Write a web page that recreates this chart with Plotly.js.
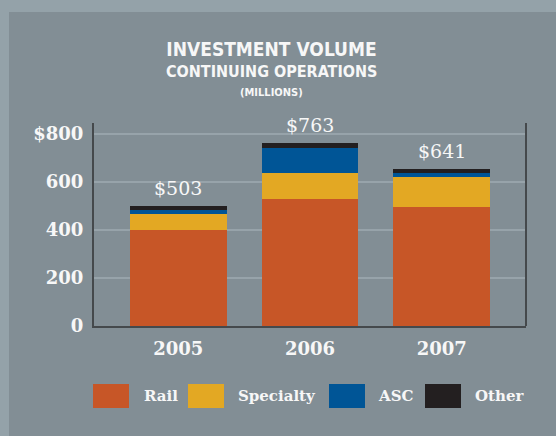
<!DOCTYPE html>
<html>
<head>
<meta charset="utf-8">
<script src="https://cdn.plot.ly/plotly-3.0.1.min.js"></script>
<style>
  html, body { margin: 0; padding: 0; background: #94a2a9; width: 556px; height: 436px; overflow: hidden; }
  #chart { position: absolute; left: 9px; top: 12px; width: 547px; height: 424px; }
</style>
</head>
<body>
<div id="chart"></div>
<script>
// ---- data ----
const years = ["2005", "2006", "2007"];
const rail = [401, 531, 497];
const specialty = [67, 108, 125];
const asc = [17, 104, 17];
const other = [16, 21, 16];
const totalLabels = ["$503", "$763", "$641"];
const seriesNames = ["Rail", "Specialty", "ASC", "Other"];
const seriesColors = ["#c75627", "#e3a823", "#005596", "#231f20"];
const yTickVals = [0, 200, 400, 600, 800];
const yTickText = ["0", "200", "400", "600", "$800"];

// ---- layout geometry (pixels inside the chart div) ----
const W = 547, H = 424;
const M = { l: 85, r: 30, t: 111, b: 110 };
const PW = W - M.l - M.r, PH = H - M.t - M.b;
const px = x => (x - M.l) / PW;
const py = y => (H - M.b - y) / PH;

const seriesValues = [rail, specialty, asc, other];
const traces = seriesNames.map((name, i) => ({
  type: "bar",
  name: name,
  x: years,
  y: seriesValues[i],
  marker: { color: seriesColors[i], line: { width: 0 } },
  width: 0.735,
  hoverinfo: "skip",
  showlegend: false
}));

const white = "#f7f7f7";
const serif = "DejaVu Serif, serif";
const stencil = "DejaVu Sans Condensed, Liberation Sans Narrow, sans-serif";

const totals = years.map((_, j) => seriesValues.reduce((s, arr) => s + arr[j], 0));

const annotations = [];
years.forEach((yr, j) => {
  annotations.push({
    x: j, y: totals[j], xref: "x", yref: "y",
    text: totalLabels[j], showarrow: false,
    xanchor: "center", yanchor: "bottom", yshift: 5,
    font: { family: serif, size: 19, color: white }
  });
});
annotations.push({
  xref: "paper", yref: "paper", x: px(262), y: py(60),
  text: "CONTINUING OPERATIONS", showarrow: false,
  xanchor: "center", yanchor: "middle",
  font: { family: stencil, size: 16, color: white, weight: 700 }
});
annotations.push({
  xref: "paper", yref: "paper", x: px(262.5), y: py(80.5),
  text: "(MILLIONS)", showarrow: false,
  xanchor: "center", yanchor: "middle",
  font: { family: stencil, size: 11, color: white, weight: 700 }
});

// custom legend (large swatches)
const swatchX = [84, 179, 320, 416];
const textX = [133, 227, 367, 464];
const shapes = [
  { type: "line", xref: "paper", yref: "paper", x0: 1, x1: 1, y0: 0, y1: 1,
    line: { color: "#45494c", width: 2 } }
];
seriesNames.forEach((name, i) => {
  shapes.push({
    type: "rect", xref: "paper", yref: "paper",
    x0: px(swatchX[i]), x1: px(swatchX[i] + 36),
    y0: py(396), y1: py(372),
    fillcolor: seriesColors[i], line: { width: 0 }
  });
  annotations.push({
    xref: "paper", yref: "paper", x: px(textX[i]), y: py(384),
    text: "<b>" + name + "</b>", showarrow: false,
    xanchor: "left", yanchor: "middle",
    font: { family: serif, size: 15, color: white }
  });
});

const layout = {
  width: W, height: H,
  margin: M,
  paper_bgcolor: "#828e95",
  plot_bgcolor: "#828e95",
  barmode: "stack",
  bargap: 0.265,
  title: {
    text: "INVESTMENT VOLUME",
    xref: "container", yref: "container",
    x: 262.5 / W, y: 1 - 37 / H,
    xanchor: "center", yanchor: "middle",
    font: { family: stencil, size: 19, color: white, weight: 700 }
  },
  xaxis: {
    type: "category",
    range: [-0.64, 2.64],
    showline: true, linecolor: "#45494c", linewidth: 2,
    showgrid: false, zeroline: false,
    ticks: "",
    ticklabelstandoff: 5,
    tickfont: { family: serif, size: 18, color: white, weight: 700 },
    fixedrange: true
  },
  yaxis: {
    range: [0, 846],
    showline: true, linecolor: "#45494c", linewidth: 2,
    showgrid: true, gridcolor: "#97a3aa", gridwidth: 1.5,
    zeroline: false,
    tickmode: "array", tickvals: yTickVals, ticktext: yTickText,
    ticks: "",
    ticklabelstandoff: 5,
    tickfont: { family: serif, size: 18, color: white, weight: 700 },
    fixedrange: true
  },
  shapes: shapes,
  annotations: annotations,
  showlegend: false
};

Plotly.newPlot("chart", traces, layout, { displayModeBar: false, staticPlot: true });
</script>
</body>
</html>
